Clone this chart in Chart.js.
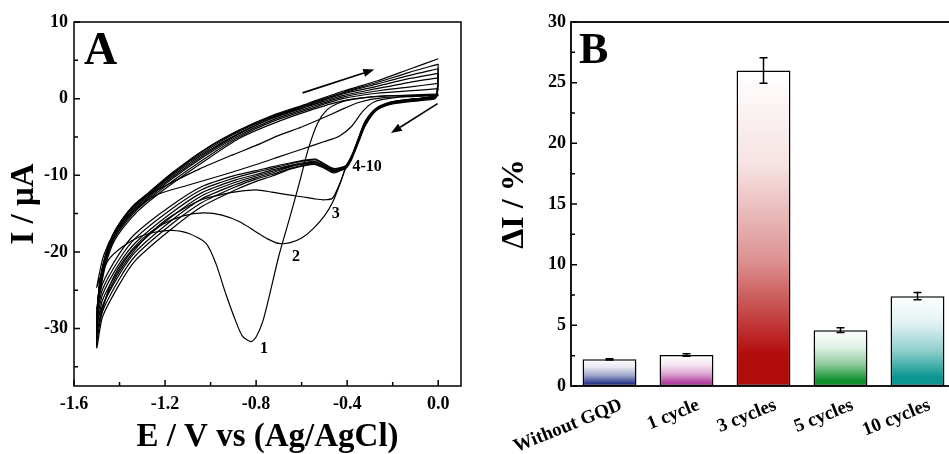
<!DOCTYPE html>
<html>
<head>
<meta charset="utf-8">
<script src="https://cdn.jsdelivr.net/npm/chart.js@4.4.1/dist/chart.umd.min.js"></script>
<style>
html, body { margin: 0; padding: 0; background: #fff; overflow: hidden; }
#wrapA { position: absolute; left: 0; top: 0; }
#wrapB { position: absolute; left: 470px; top: 0; }
</style>
</head>
<body>
<div id="wrapA"><canvas id="cvA" width="470" height="454"></canvas></div>
<div id="wrapB"><canvas id="cvB" width="500" height="454"></canvas></div>
<script>
// ---------- panel A : cyclic voltammograms (E in V, I in uA) ----------
// shared potential grids used by cycles 3-10
var potCath = [0, -0.01, -0.06, -0.2, -0.27, -0.32, -0.35, -0.38, -0.405, -0.43, -0.46, -0.5, -0.54, -0.58, -0.65, -0.73, -0.8, -0.89, -1.04, -1.18, -1.33, -1.4, -1.475, -1.5];
var potAnod = [-1.49, -1.46, -1.42, -1.34, -1.27, -1.17, -1.02, -0.875, -0.73, -0.57, -0.42, -0.27, -0.13, 0];

// cycle 1
var pot1c = [0, -0.1, -0.2, -0.3, -0.38, -0.44, -0.49, -0.53, -0.57, -0.61, -0.65, -0.7, -0.74, -0.77, -0.8, -0.823, -0.86, -0.89, -0.933, -0.977, -1.02, -1.095, -1.17, -1.24, -1.31, -1.39, -1.45, -1.49, -1.5];
var cur1c = [0.6, 0.5, 0.4, 0.2, -0.1, -0.6, -1.5, -3.2, -6.5, -11.0, -15.3, -20.5, -25.5, -29.0, -31.1, -31.7, -31.0, -29.0, -25.5, -21.5, -18.9, -17.6, -17.2, -17.4, -18.0, -19.4, -21.1, -23.7, -24.6];
var pot1a = [-1.47, -1.42, -1.36, -1.24, -1.1, -0.95, -0.8, -0.7, -0.6, -0.5, -0.435, -0.38, -0.33, -0.28, -0.2, -0.1, 0];
var cur1a = [-20.5, -17.3, -15.2, -12.6, -11.3, -10.0, -8.6, -7.6, -6.6, -5.6, -4.9, -3.6, -1.6, -0.4, 0.1, 0.3, 0.5];

// cycle 2
var pot2c = [0, -0.01, -0.06, -0.2, -0.27, -0.32, -0.35, -0.38, -0.405, -0.43, -0.465, -0.5, -0.55, -0.6, -0.65, -0.7, -0.75, -0.8, -0.87, -0.95, -1.03, -1.12, -1.21, -1.3, -1.38, -1.44, -1.5];
var cur2c = [0.5, 0.3, 0.1, -0.5, -1.4, -3.2, -5.4, -7.6, -8.9, -11.0, -13.6, -15.3, -17.0, -18.2, -18.8, -18.9, -18.3, -17.4, -16.1, -15.2, -14.9, -15.3, -16.4, -18.3, -21.0, -24.2, -30.0];
var pot2a = [-1.48, -1.44, -1.38, -1.31, -1.2, -1.05, -0.9, -0.8, -0.7, -0.6, -0.52, -0.43, -0.35, -0.25, -0.12, 0];
var cur2a = [-23.5, -18.6, -15.4, -13.2, -11.4, -9.2, -7.3, -6.1, -4.8, -3.7, -2.7, -1.5, -0.5, 0.1, 0.3, 0.4];

// cycle 3
var pot3c = [0, -0.01, -0.06, -0.2, -0.27, -0.32, -0.35, -0.38, -0.405, -0.43, -0.465, -0.5, -0.54, -0.6, -0.65, -0.73, -0.8, -0.875, -0.95, -1.04, -1.12, -1.2, -1.3, -1.4, -1.45, -1.5];
var cur3c = [0.4, 0.3, 0.1, -0.5, -1.4, -3.2, -5.4, -7.6, -8.9, -10.9, -13.0, -13.2, -13.1, -12.8, -12.6, -12.2, -11.9, -12.1, -12.5, -13.2, -14.4, -15.9, -18.6, -22.5, -25.3, -28.8];
var cur3a = [-26.0, -21.6, -18.4, -15.3, -13.4, -11.1, -8.0, -5.2, -3.3, -1.6, -0.3, 0.3, 0.4, 0.5];

// cycles 4-10, cathodic (on potCath) and anodic (on potAnod)
var cur4c = [0.5, 0.3, 0.1, -0.4, -1.2, -2.9, -5.1, -7.4, -8.7, -9.0, -9.1, -8.5, -7.9, -8.0, -8.4, -8.9, -9.4, -10.0, -11.5, -14.1, -17.6, -20.2, -24.2, -27.4];
var cur5c = [1.3, 0.3, 0.1, -0.4, -1.3, -3.0, -5.2, -7.5, -8.8, -9.1, -9.2, -8.6, -8.0, -8.1, -8.5, -9.1, -9.6, -10.3, -11.9, -14.6, -18.2, -20.9, -24.9, -28.2];
var cur6c = [2.0, 0.3, 0.0, -0.5, -1.3, -3.1, -5.3, -7.6, -8.9, -9.2, -9.3, -8.7, -8.2, -8.3, -8.7, -9.3, -9.9, -10.6, -12.3, -15.1, -18.8, -21.5, -25.6, -29.0];
var cur7c = [2.7, 0.2, 0.0, -0.5, -1.4, -3.2, -5.4, -7.6, -8.9, -9.2, -9.4, -8.8, -8.3, -8.4, -8.8, -9.5, -10.1, -10.9, -12.7, -15.6, -19.4, -22.2, -26.3, -29.9];
var cur8c = [3.3, 0.2, -0.1, -0.6, -1.4, -3.3, -5.5, -7.7, -9.0, -9.3, -9.5, -8.9, -8.4, -8.5, -8.9, -9.7, -10.3, -11.2, -13.1, -16.1, -20.0, -22.9, -27.1, -30.8];
var cur9c = [3.9, 0.2, -0.1, -0.6, -1.5, -3.4, -5.6, -7.8, -9.0, -9.3, -9.6, -9.0, -8.5, -8.6, -9.1, -9.9, -10.5, -11.5, -13.6, -16.6, -20.5, -23.5, -27.8, -31.6];
var cur10c = [4.5, 0.1, -0.2, -0.7, -1.5, -3.5, -5.7, -7.9, -9.1, -9.4, -9.7, -9.1, -8.6, -8.7, -9.2, -10.1, -10.8, -11.9, -14.1, -17.2, -21.1, -24.2, -28.5, -32.5];
var cur4a = [-25.6, -21.2, -18.1, -15.0, -13.1, -10.8, -7.7, -5.0, -3.0, -1.4, 0.0, 0.7, 1.0, 1.3];
var cur5a = [-25.3, -20.9, -17.9, -14.8, -12.9, -10.5, -7.4, -4.8, -2.8, -1.2, 0.2, 1.0, 1.5, 2.0];
var cur6a = [-25.1, -20.7, -17.7, -14.6, -12.7, -10.3, -7.2, -4.6, -2.6, -1.0, 0.4, 1.3, 2.1, 2.7];
var cur7a = [-24.9, -20.5, -17.5, -14.4, -12.5, -10.1, -7.0, -4.5, -2.5, -0.9, 0.6, 1.6, 2.6, 3.3];
var cur8a = [-24.8, -20.4, -17.4, -14.2, -12.4, -9.9, -6.8, -4.3, -2.4, -0.8, 0.7, 1.9, 3.0, 3.9];
var cur9a = [-24.7, -20.3, -17.3, -14.1, -12.3, -9.8, -6.6, -4.2, -2.3, -0.7, 0.8, 2.1, 3.4, 4.5];
var cur10a = [-24.6, -20.2, -17.2, -14.0, -12.2, -9.7, -6.5, -4.1, -2.2, -0.6, 0.96, 2.3, 3.8, 5.2];

var xTicksA = [-1.6, -1.2, -0.8, -0.4, 0.0];
var xMinorA = [-1.4, -1.0, -0.6, -0.2];
var yTicksA = [-30, -20, -10, 0, 10];
var yMinorA = [-35, -25, -15, -5, 5];

var cycleLabels = ['1', '2', '3', '4-10'];
var cycleLabelE = [-0.765, -0.625, -0.45, -0.312];
var cycleLabelI = [-32.6, -20.7, -15.0, -8.9];
// scan direction arrows: [E from, I from, E to, I to]
var scanArrows = [[-0.596, 0.75, -0.281, 3.8], [-0.003, -0.66, -0.208, -4.5]];

// ---------- panel B : bars ----------
var cats = ['Without GQD', '1 cycle', '3 cycles', '5 cycles', '10 cycles'];
var dI = [2.2, 2.55, 26.0, 4.6, 7.4];
var dIerr = [0.05, 0.1, 1.05, 0.2, 0.3];
var yTicksB = [0, 5, 10, 15, 20, 25, 30];
var yMinorB = [2.5, 7.5, 12.5, 17.5, 22.5, 27.5];
var barColors = [[43, 58, 140], [178, 62, 160], [179, 12, 12], [13, 143, 44], [12, 150, 144]];

Chart.defaults.font.family = '"Liberation Serif", "Times New Roman", serif';
Chart.defaults.font.weight = 'bold';
Chart.defaults.color = '#000';

function loop(ec, ic, ea, ia) {
	var pts = [];
	for (var i = 0; i < ec.length; i++) pts.push({x: ec[i], y: ic[i]});
	for (var j = 0; j < ea.length; j++) pts.push({x: ea[j], y: ia[j]});
	return pts;
}

var loops = [
	loop(pot1c, cur1c, pot1a, cur1a),
	loop(pot2c, cur2c, pot2a, cur2a),
	loop(pot3c, cur3c, potAnod, cur3a),
	loop(potCath, cur4c, potAnod, cur4a),
	loop(potCath, cur5c, potAnod, cur5a),
	loop(potCath, cur6c, potAnod, cur6a),
	loop(potCath, cur7c, potAnod, cur7a),
	loop(potCath, cur8c, potAnod, cur8a),
	loop(potCath, cur9c, potAnod, cur9a),
	loop(potCath, cur10c, potAnod, cur10a)
];

var datasetsA = [];
for (var k = 0; k < loops.length; k++) {
	datasetsA.push({
		label: 'cycle ' + (k + 1),
		data: loops[k],
		showLine: true,
		borderColor: '#000',
		borderWidth: 1.2,
		pointRadius: 0,
		tension: 0.25,
		fill: false
	});
}

function drawTicks(c, scale, area, vals, len, vertical) {
	vals.forEach(function(v) {
		var p = scale.getPixelForValue(v);
		if (vertical) { c.moveTo(p, area.bottom); c.lineTo(p, area.bottom - len); }
		else { c.moveTo(area.left, p); c.lineTo(area.left + len, p); }
	});
}

function arrow(c, x1, y1, x2, y2) {
	var ang = Math.atan2(y2 - y1, x2 - x1), h = 11, w = 4;
	var bx = x2 - h * Math.cos(ang), by = y2 - h * Math.sin(ang);
	c.beginPath();
	c.moveTo(x1, y1);
	c.lineTo(bx, by);
	c.stroke();
	c.beginPath();
	c.moveTo(x2, y2);
	c.lineTo(bx + w * Math.sin(ang), by - w * Math.cos(ang));
	c.lineTo(bx - w * Math.sin(ang), by + w * Math.cos(ang));
	c.closePath();
	c.fill();
}

var frameA = {
	id: 'frameA',
	afterDraw: function(chart) {
		var c = chart.ctx, a = chart.chartArea, xs = chart.scales.x, ys = chart.scales.y;
		c.save();
		c.strokeStyle = '#000';
		c.fillStyle = '#000';
		c.lineWidth = 1.5;
		c.strokeRect(a.left, a.top, a.right - a.left, a.bottom - a.top);
		c.beginPath();
		drawTicks(c, xs, a, xTicksA, 6, true);
		drawTicks(c, xs, a, xMinorA, 4, true);
		drawTicks(c, ys, a, yTicksA, 6, false);
		drawTicks(c, ys, a, yMinorA, 4, false);
		c.stroke();

		c.font = 'bold 46px "Liberation Serif", serif';
		c.textAlign = 'left';
		c.textBaseline = 'alphabetic';
		c.fillText('A', 84, 64);

		c.font = 'bold 16px "Liberation Serif", serif';
		c.textAlign = 'center';
		c.textBaseline = 'middle';
		for (var i = 0; i < cycleLabels.length; i++)
			c.fillText(cycleLabels[i], xs.getPixelForValue(cycleLabelE[i]), ys.getPixelForValue(cycleLabelI[i]));

		c.lineWidth = 1.6;
		scanArrows.forEach(function(s) {
			arrow(c, xs.getPixelForValue(s[0]), ys.getPixelForValue(s[1]), xs.getPixelForValue(s[2]), ys.getPixelForValue(s[3]));
		});
		c.restore();
	}
};

new Chart(document.getElementById('cvA'), {
	type: 'scatter',
	data: { datasets: datasetsA },
	options: {
		responsive: false,
		animation: false,
		layout: { padding: { top: 22, right: 9, left: 0, bottom: 0 } },
		plugins: { legend: { display: false }, tooltip: { enabled: false } },
		scales: {
			x: {
				type: 'linear',
				min: -1.6,
				max: 0.1,
				afterBuildTicks: function(s) { s.ticks = xTicksA.map(function(v) { return {value: v}; }); },
				afterFit: function(s) { s.height = 68; },
				grid: { display: false, drawTicks: false },
				border: { display: false },
				ticks: { padding: 8, font: { size: 18, weight: 'bold' }, callback: function(v) { return v.toFixed(1); } },
				title: { display: true, text: 'E / V vs (Ag/AgCl)', font: { size: 33, weight: 'bold', lineHeight: 1.0 }, padding: { top: 0, bottom: 0 } }
			},
			y: {
				type: 'linear',
				min: -37.5,
				max: 10,
				afterBuildTicks: function(s) { s.ticks = yTicksA.map(function(v) { return {value: v}; }); },
				afterFit: function(s) { s.width = 74; },
				grid: { display: false, drawTicks: false },
				border: { display: false },
				ticks: { padding: 6, font: { size: 18, weight: 'bold' } },
				title: { display: true, text: 'I / μA', font: { size: 33, weight: 'bold' }, padding: { top: 5, bottom: 0 } }
			}
		}
	},
	plugins: [frameA]
});

// ---------- panel B ----------
function mix(rgb, t) {
	return 'rgb(' + rgb.map(function(v) { return Math.round(255 + (v - 255) * t); }).join(',') + ')';
}

var frameB = {
	id: 'frameB',
	afterDraw: function(chart) {
		var c = chart.ctx, a = chart.chartArea, ys = chart.scales.y;
		var meta = chart.getDatasetMeta(0);
		c.save();
		c.strokeStyle = '#000';
		c.fillStyle = '#000';
		c.lineWidth = 1.5;
		// error bars
		meta.data.forEach(function(el, i) {
			var y1 = ys.getPixelForValue(dI[i] + dIerr[i]), y2 = ys.getPixelForValue(dI[i] - dIerr[i]);
			c.beginPath();
			c.moveTo(el.x, y1); c.lineTo(el.x, y2);
			c.moveTo(el.x - 4, y1); c.lineTo(el.x + 4, y1);
			c.moveTo(el.x - 4, y2); c.lineTo(el.x + 4, y2);
			c.stroke();
		});
		c.lineWidth = 1.8;
		c.strokeRect(a.left, a.top, a.right - a.left, a.bottom - a.top);
		c.lineWidth = 1.5;
		c.beginPath();
		drawTicks(c, ys, a, yTicksB, 6, false);
		drawTicks(c, ys, a, yMinorB, 4, false);
		c.stroke();
		c.font = 'bold 44px "Liberation Serif", serif';
		c.textAlign = 'left';
		c.textBaseline = 'alphabetic';
		c.fillText('B', 109, 63);
		c.restore();
	}
};

new Chart(document.getElementById('cvB'), {
	type: 'bar',
	data: {
		labels: cats,
		datasets: [{
			label: 'ΔI',
			data: dI,
			borderColor: '#000',
			borderWidth: 1.5,
			borderSkipped: false,
			barPercentage: 0.7,
			categoryPercentage: 1,
			backgroundColor: function(ctx) {
				var chart = ctx.chart;
				if (!chart.chartArea) return '#fff';
				var ys = chart.scales.y;
				var top = ys.getPixelForValue(dI[ctx.dataIndex]), bot = ys.getPixelForValue(0);
				var col = barColors[ctx.dataIndex];
				var g = chart.ctx.createLinearGradient(0, top, 0, bot);
				g.addColorStop(0, '#ffffff');
				g.addColorStop(0.3, mix(col, 0.12));
				g.addColorStop(0.6, mix(col, 0.45));
				g.addColorStop(0.9, mix(col, 1));
				g.addColorStop(1, mix(col, 1));
				return g;
			}
		}]
	},
	options: {
		responsive: false,
		animation: false,
		layout: { padding: { top: 22, right: 14, left: 0, bottom: 0 } },
		plugins: { legend: { display: false }, tooltip: { enabled: false } },
		scales: {
			x: {
				afterFit: function(s) { s.height = 68; },
				grid: { display: false, drawTicks: false },
				border: { display: false },
				ticks: { padding: 8, labelOffset: 12, maxRotation: 22, minRotation: 22, font: { size: 19, weight: 'bold' } }
			},
			y: {
				min: 0,
				max: 30,
				afterBuildTicks: function(s) { s.ticks = yTicksB.map(function(v) { return {value: v}; }); },
				afterFit: function(s) { s.width = 101; },
				grid: { display: false, drawTicks: false },
				border: { display: false },
				ticks: { padding: 5, font: { size: 18, weight: 'bold' } },
				title: { display: true, text: 'ΔI / %', font: { size: 32, weight: 'bold' }, padding: { top: 26, bottom: 0 } }
			}
		}
	},
	plugins: [frameB]
});
</script>
</body>
</html>
